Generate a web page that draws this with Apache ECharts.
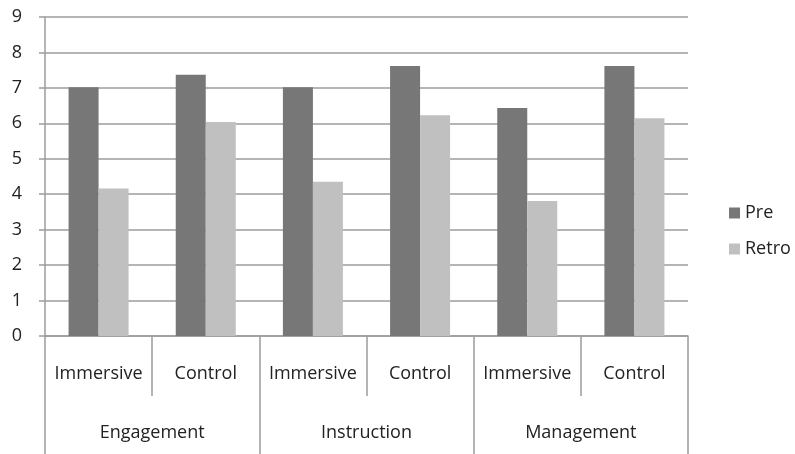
<!DOCTYPE html>
<html>
<head>
<meta charset="utf-8">
<script src="https://cdn.jsdelivr.net/npm/echarts@6/dist/echarts.min.js"></script>
<style>
  html, body { margin: 0; padding: 0; background: #fff; }
  #main { width: 795px; height: 454px; }
</style>
</head>
<body>
<div id="main"></div>
<script>
// 数据
var groups = ['Engagement', 'Instruction', 'Management'];
var conditions = ['Immersive', 'Control', 'Immersive', 'Control', 'Immersive', 'Control'];
var preValues = [7.02, 7.37, 7.02, 7.62, 6.43, 7.62];
var retroValues = [4.16, 6.04, 4.35, 6.23, 3.81, 6.14];
var yTicks = [0, 1, 2, 3, 4, 5, 6, 7, 8, 9];

var chart = echarts.init(document.getElementById('main'));
var font = 'Open Sans, Liberation Sans, sans-serif';
var lineColor = '#9c9c9c';
var fs = 18;

var option = {
    animation: false,
    textStyle: { fontFamily: font },
    legend: {
        orient: 'vertical',
        left: 724,
        top: 199,
        itemWidth: 11,
        itemHeight: 11,
        itemGap: 18,
        icon: 'rect',
        textStyle: { fontSize: fs, color: '#222', fontFamily: font },
        data: ['Pre', 'Retro']
    },
    grid: {
        left: 45,
        right: 107,
        top: 17,
        bottom: 118,
        containLabel: false
    },
    xAxis: [
        {
            type: 'category',
            data: conditions,
            position: 'bottom',
            axisLine: { show: true, lineStyle: { color: lineColor, width: 1.5 } },
            axisTick: { show: true, interval: 0, length: 60, lineStyle: { color: lineColor, width: 1.5 } },
            axisLabel: { interval: 0, margin: 29, fontSize: fs, color: '#222', fontFamily: font }
        },
        {
            type: 'category',
            data: groups,
            position: 'bottom',
            axisLine: { show: false },
            axisTick: { show: true, interval: 0, length: 118, lineStyle: { color: lineColor, width: 1.5 } },
            axisLabel: { interval: 0, margin: 88, fontSize: fs, color: '#222', fontFamily: font }
        }
    ],
    yAxis: {
        type: 'value',
        min: yTicks[0],
        max: yTicks[yTicks.length - 1],
        interval: 1,
        axisLine: { show: true, lineStyle: { color: lineColor, width: 1.5 } },
        axisTick: { show: true, length: 6, lineStyle: { color: lineColor, width: 1.5 } },
        axisLabel: { margin: 23, fontSize: fs, color: '#222', fontFamily: font },
        splitLine: { show: true, lineStyle: { color: lineColor, width: 1.5 } }
    },
    series: [
        {
            name: 'Pre',
            type: 'bar',
            xAxisIndex: 0,
            data: preValues,
            barGap: '0%',
            barCategoryGap: '44%',
            itemStyle: { color: '#777777' }
        },
        {
            name: 'Retro',
            type: 'bar',
            xAxisIndex: 0,
            data: retroValues,
            barGap: '0%',
            barCategoryGap: '44%',
            itemStyle: { color: '#c0c0c0' }
        }
    ]
};

chart.setOption(option);
</script>
</body>
</html>
